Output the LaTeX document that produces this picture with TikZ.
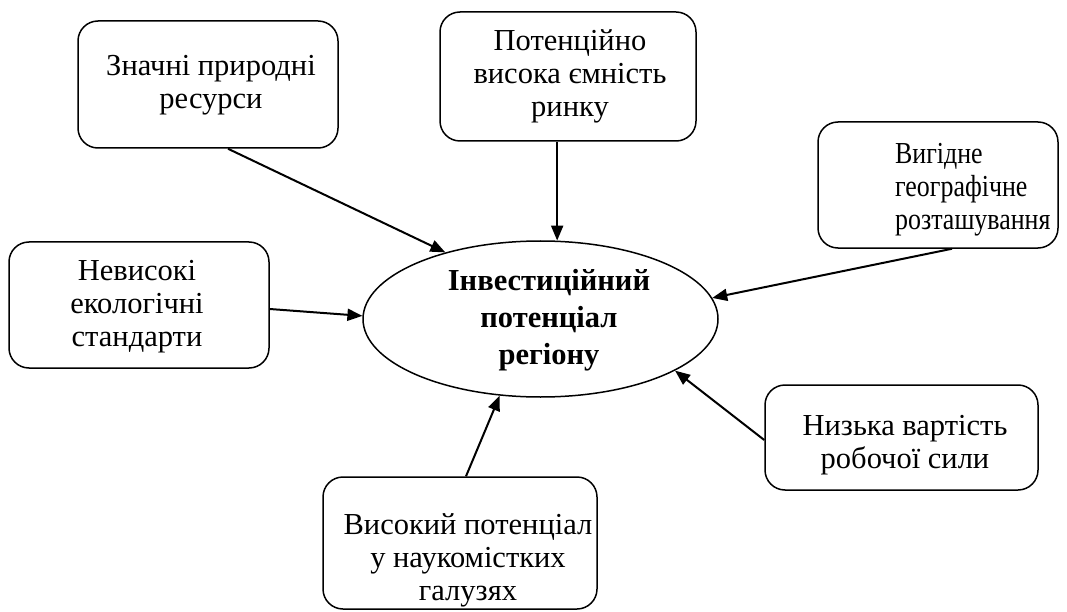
\documentclass[tikz,border=0pt]{standalone}
\usepackage{fontspec}
\setmainfont{Liberation Serif}
\usetikzlibrary{arrows.meta,shapes.geometric}
\begin{document}
\begin{tikzpicture}[x=1pt,y=-1pt,
  box/.style={draw, line width=1.5pt, rounded corners=20pt, inner sep=0pt},
  oval/.style={draw, ellipse, line width=1.5pt, inner sep=0pt},
  txt/.style={font=\fontsize{30.5}{33}\selectfont, align=center, inner sep=0pt},
  btxt/.style={font=\fontsize{30.5}{37}\selectfont\bfseries, align=center, inner sep=0pt},
  arr/.style={line width=2pt, -{Triangle[length=15pt,width=12pt]}}]
\useasboundingbox[fill=white] (0,0) rectangle (1067,612);
% boxes
\node[box, minimum width=260pt, minimum height=127pt] (b1) at (208,84.5) {};
\node[box, minimum width=256pt, minimum height=129pt] (b2) at (568,76.5) {};
\node[box, minimum width=240pt, minimum height=126pt] (b3) at (938,185) {};
\node[box, minimum width=260pt, minimum height=126pt] (b4) at (139,305) {};
\node[box, minimum width=273pt, minimum height=105pt] (b6) at (901.5,437.5) {};
\node[box, minimum width=274pt, minimum height=132pt] (b7) at (460,543) {};
\node[oval, minimum width=355pt, minimum height=156pt] (ell) at (540.5,319) {};
% texts
\node[txt] (t1) at (211,85.5) {Значні природні\\ресурси};
\node[txt] (t2) at (570,76.5) {Потенційно\\висока ємність\\ринку};
\node[txt, align=left, anchor=west, xscale=0.85] (t3) at (895,189.5) {Вигідне\\географічне\\розташування};
\node[txt] (t4) at (137,307) {Невисокі\\екологічні\\стандарти};
\node[txt] (t6) at (905,445.5) {Низька вартість\\робочої сили};
\node[txt] (t7) at (468,560) {Високий потенціал\\у наукомістких\\галузях};
\node[btxt] (te) at (549,320) {Інвестиційний\\потенціал\\регіону};
% connectors
\draw[arr] ([xshift=20pt]b1.south) -- (ell.145);
\draw[arr] (ell.78 |- b2.south) -- (ell.78);
\draw[arr] ([xshift=14pt]b3.south) -- (ell.7);
\draw[arr] ([yshift=-4pt]b4.east) -- (ell.179);
\draw[arr] ([yshift=-2.5pt]b6.west) -- (ell.-21.5);
\draw[arr] ([xshift=6pt]b7.north) -- (ell.-118);
\end{tikzpicture}
\end{document}
